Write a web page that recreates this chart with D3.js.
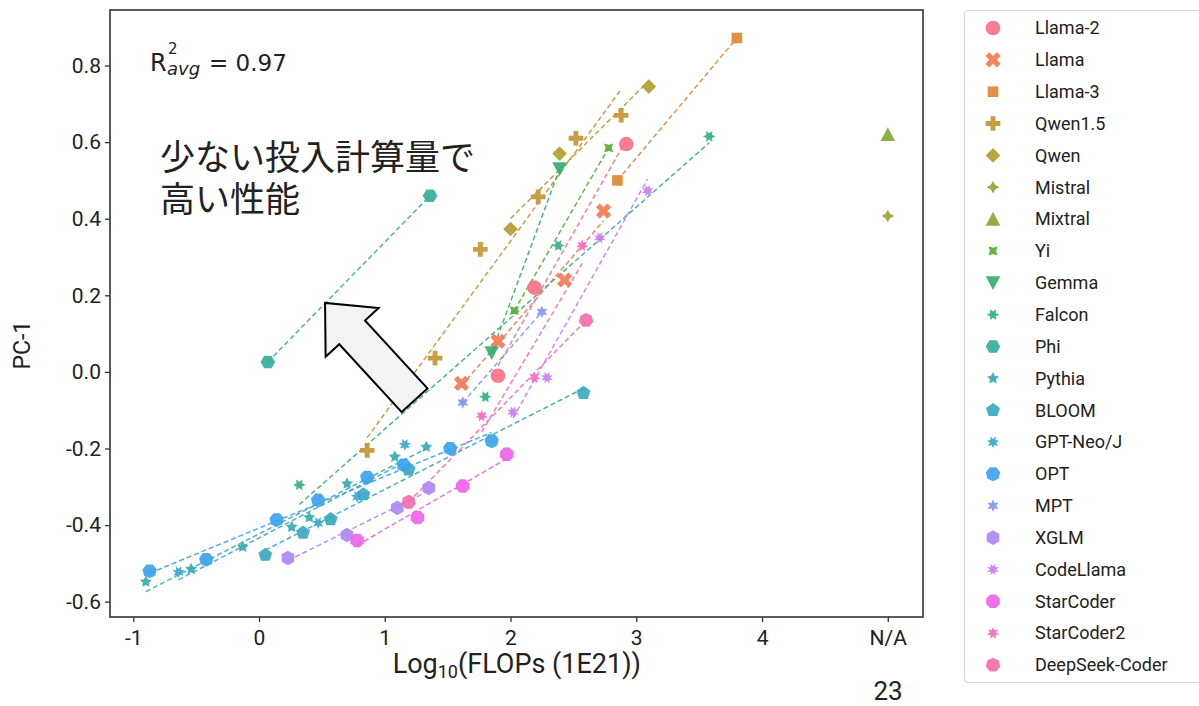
<!DOCTYPE html>
<html>
<head>
<meta charset="utf-8">
<script src="https://cdn.jsdelivr.net/npm/d3@7"></script>
<style>
  body { margin: 0; background: #fff; }
  text { font-family: Roboto, "Noto Sans", sans-serif; fill: #222; }
</style>
</head>
<body>
<div class="chart"></div>
<script>
// model families (legend order)
var families = ["Llama-2", "Llama", "Llama-3", "Qwen1.5", "Qwen", "Mistral", "Mixtral", "Yi", "Gemma",
  "Falcon", "Phi", "Pythia", "BLOOM", "GPT-Neo/J", "OPT", "MPT", "XGLM", "CodeLlama", "StarCoder",
  "StarCoder2", "DeepSeek-Coder"];

// [log10 FLOPs (1E21), PC-1]  -- x = 5 means N/A
var llama2 = [[1.90, -0.01], [2.19, 0.22], [2.92, 0.595]];
var llama = [[1.61, -0.03], [1.90, 0.08], [2.43, 0.24], [2.74, 0.42]];
var llama3 = [[2.85, 0.50], [3.80, 0.872]];
var qwen15 = [[0.86, -0.205], [1.40, 0.036], [1.76, 0.32], [2.22, 0.457], [2.52, 0.61], [2.88, 0.67]];
var qwen = [[2.00, 0.373], [2.39, 0.57], [3.10, 0.745]];
var mistral = [[5, 0.407]];
var mixtral = [[5, 0.62]];
var yi = [[2.03, 0.16], [2.78, 0.585]];
var gemma = [[1.85, 0.05], [2.39, 0.53]];
var falcon = [[0.32, -0.295], [1.80, -0.065], [2.38, 0.33], [3.58, 0.615]];
var phi = [[0.07, 0.026], [1.36, 0.46]];
var pythia = [[-0.90, -0.548], [-0.54, -0.515], [-0.13, -0.457], [0.26, -0.405], [0.40, -0.38], [0.70, -0.292], [1.08, -0.222], [1.33, -0.196]];
var bloom = [[0.05, -0.478], [0.35, -0.42], [0.57, -0.385], [0.83, -0.32], [1.19, -0.255], [2.58, -0.055]];
var gptneo = [[-0.64, -0.522], [0.47, -0.394], [0.78, -0.326], [1.16, -0.19]];
var opt = [[-0.87, -0.52], [-0.42, -0.49], [0.14, -0.386], [0.47, -0.335], [0.86, -0.275], [1.15, -0.243], [1.52, -0.20], [1.85, -0.18]];
var mpt = [[1.62, -0.08], [2.25, 0.157]];
var xglm = [[0.23, -0.486], [0.70, -0.426], [1.10, -0.355], [1.35, -0.303]];
var codellama = [[2.02, -0.105], [2.29, -0.015], [2.71, 0.35], [3.09, 0.473]];
var starcoder = [[0.78, -0.44], [1.26, -0.38], [1.62, -0.298], [1.97, -0.215]];
var starcoder2 = [[1.77, -0.115], [2.19, -0.015], [2.57, 0.33]];
var deepseek = [[1.19, -0.34], [2.60, 0.135]];

var series = [llama2, llama, llama3, qwen15, qwen, mistral, mixtral, yi, gemma, falcon, phi, pythia,
  bloom, gptneo, opt, mpt, xglm, codellama, starcoder, starcoder2, deepseek];

var xTicks = [-1, 0, 1, 2, 3, 4, 5];
var xTickLabels = ["-1", "0", "1", "2", "3", "4", "N/A"];
var yTicks = [-0.6, -0.4, -0.2, 0, 0.2, 0.4, 0.6, 0.8];

// husl-like palette, one colour per family
var palette = ["#f77189", "#f47952", "#e08832", "#c69532", "#b19d31", "#9ba331", "#82a931", "#58ad32",
  "#33b06c", "#34af88", "#35ae9b", "#37abb0", "#38a9bf", "#39a7ce", "#3ba3ec", "#8297f4", "#ad88f4",
  "#cb7cf4", "#ef63e8", "#f569c6", "#f66ea8"];

// seaborn's marker sequence
var markers = [
  {t: "circle"}, {t: "x"}, {t: "poly", n: 4, rot: 45}, {t: "plus"}, {t: "poly", n: 4, rot: 0},
  {t: "star", n: 4, rot: 0}, {t: "tri"}, {t: "star", n: 4, rot: 45}, {t: "tridown"},
  {t: "star", n: 6, rot: 30}, {t: "poly", n: 6, rot: 30}, {t: "star", n: 5, rot: 0}, {t: "poly", n: 5, rot: 0},
  {t: "star", n: 7, rot: 25.7}, {t: "poly", n: 7, rot: 25.7}, {t: "star", n: 6, rot: 0}, {t: "poly", n: 6, rot: 0},
  {t: "star", n: 8, rot: 22.5}, {t: "poly", n: 8, rot: 22.5}, {t: "star", n: 7, rot: 0}, {t: "poly", n: 7, rot: 0}
];

var width = 1199, height = 706;
var margin = {top: 10, right: 276, bottom: 89, left: 110};
var plotW = width - margin.left - margin.right,
    plotH = height - margin.top - margin.bottom;

var svg = d3.select(".chart")
  .append("svg")
    .attr("width", width)
    .attr("height", height);

var g = svg.append("g")
    .attr("transform", "translate(" + margin.left + "," + margin.top + ")");

var x = d3.scaleLinear().domain([-1.185, 5.28]).range([0, plotW]);
var y = d3.scaleLinear().domain([-0.64, 0.945]).range([plotH, 0]);

// marker path builder (centred at 0,0)
function markerPath(m, r) {
  var pts = [], i, a;
  function ring(n, rot, inner) {
    var k = inner ? 2 * n : n;
    for (i = 0; i < k; i++) {
      a = Math.PI / 2 + (2 * Math.PI * i) / k + rot * Math.PI / 180;
      var rr = inner && i % 2 ? r * 0.5 : r;
      pts.push([rr * Math.cos(a), -rr * Math.sin(a)]);
    }
  }
  function cross(rot, ext) {
    var w = ext / 3, base = [[w, ext], [w, w], [ext, w], [ext, -w], [w, -w], [w, -ext],
      [-w, -ext], [-w, -w], [-ext, -w], [-ext, w], [-w, w], [-w, ext]];
    var c = Math.cos(rot), s = Math.sin(rot);
    base.forEach(function(p) { pts.push([p[0] * c - p[1] * s, p[0] * s + p[1] * c]); });
  }
  if (m.t === "circle") {
    return d3.symbol().type(d3.symbolCircle).size(Math.PI * r * r)();
  } else if (m.t === "poly") ring(m.n, m.rot, false);
  else if (m.t === "star") ring(m.n, m.rot, true);
  else if (m.t === "tri") pts = [[0, -r], [-r, r * 0.9], [r, r * 0.9]];
  else if (m.t === "tridown") pts = [[0, r], [-r, -r * 0.9], [r, -r * 0.9]];
  else if (m.t === "plus") cross(0, r);
  else if (m.t === "x") cross(Math.PI / 4, r * 1.1);
  return "M" + pts.map(function(p) { return p[0].toFixed(2) + "," + p[1].toFixed(2); }).join("L") + "Z";
}
function markerSize(m) {
  if (m.t === "star") return 6.3;
  if (m.t === "poly" && m.n === 4 && m.rot === 45) return 7.5;
  return 7.3;
}

// least squares fit over the family's x range
function fitLine(pts) {
  var mx = d3.mean(pts, function(d) { return d[0]; }),
      my = d3.mean(pts, function(d) { return d[1]; });
  var sxy = d3.sum(pts, function(d) { return (d[0] - mx) * (d[1] - my); }),
      sxx = d3.sum(pts, function(d) { return (d[0] - mx) * (d[0] - mx); });
  var b = sxy / sxx, a = my - b * mx;
  var ext = d3.extent(pts, function(d) { return d[0]; });
  return ext.map(function(v) { return [v, a + b * v]; });
}

svg.append("defs").append("clipPath").attr("id", "clip")
  .append("rect").attr("width", plotW).attr("height", plotH);

var plot = g.append("g").attr("clip-path", "url(#clip)");
var line = d3.line().x(function(d) { return x(d[0]); }).y(function(d) { return y(d[1]); });

series.forEach(function(pts, i) {
  if (pts.length > 1) {
    plot.append("path")
      .attr("d", line(fitLine(pts)))
      .attr("fill", "none")
      .attr("stroke", palette[i])
      .attr("stroke-width", 1.5)
      .attr("stroke-dasharray", "5,3")
      .attr("opacity", 0.9);
  }
});
series.forEach(function(pts, i) {
  plot.selectAll(null)
    .data(pts)
    .enter()
    .append("path")
      .attr("d", markerPath(markers[i], markerSize(markers[i])))
      .attr("transform", function(d) { return "translate(" + x(d[0]) + "," + y(d[1]) + ")"; })
      .attr("fill", palette[i])
      .attr("opacity", 0.92);
});

// axes
var xAxis = g.append("g")
    .attr("transform", "translate(0," + plotH + ")")
    .call(d3.axisBottom(x).tickValues(xTicks).tickSize(5)
      .tickFormat(function(d, i) { return xTickLabels[i]; }));
var yAxis = g.append("g")
    .call(d3.axisLeft(y).tickValues(yTicks).tickSize(5)
      .tickFormat(function(d) { return d.toFixed(1); }));
[xAxis, yAxis].forEach(function(ax) {
  ax.select(".domain").remove();
  ax.selectAll("line").attr("stroke", "#333").attr("stroke-width", 1.3);
  ax.selectAll("text").style("font-size", "21px").attr("fill", "#222");
});
xAxis.selectAll("text").attr("dy", "0.95em");
yAxis.selectAll("text").attr("dx", "-0.05em");

g.append("rect")
  .attr("width", plotW).attr("height", plotH)
  .attr("fill", "none").attr("stroke", "#333").attr("stroke-width", 1.6);

// axis titles
var xl = svg.append("text")
  .attr("x", margin.left + x(2.05)).attr("y", 673)
  .attr("text-anchor", "middle").style("font-size", "27px");
xl.append("tspan").text("Log");
xl.append("tspan").text("10").attr("dy", 5).style("font-size", "18px");
xl.append("tspan").text("(FLOPs (1E21))").attr("dy", -5);

svg.append("text")
  .attr("transform", "translate(30," + (margin.top + y(0.07)) + ") rotate(-90)")
  .attr("text-anchor", "middle").style("font-size", "23px")
  .text("PC-1");

// R^2 annotation
var r2 = svg.append("g").style("font-family", "'DejaVu Sans', sans-serif");
r2.append("text").attr("x", 150).attr("y", 71).style("font-size", "24px").style("font-family", "inherit").attr("fill", "#333").text("R");
r2.append("text").attr("x", 168).attr("y", 54).style("font-size", "15px").style("font-family", "inherit").attr("fill", "#333").text("2");
r2.append("text").attr("x", 167).attr("y", 75).style("font-size", "18px").style("font-family", "inherit").style("font-style", "italic").attr("fill", "#333").text("avg");
r2.append("text").attr("x", 209).attr("y", 71).style("font-size", "23px").style("font-family", "inherit").attr("fill", "#333").text("= 0.97");

// Japanese call-out
var jp = svg.append("text").style("font-family", "'Noto Sans CJK JP', sans-serif").style("font-size", "35px").attr("fill", "#111");
jp.append("tspan").attr("x", 160).attr("y", 170).text("少ない投入計算量で");
jp.append("tspan").attr("x", 160).attr("y", 212).text("高い性能");

// block arrow, tail -> tip in data space
var tail = [1.237, -0.074], tip = [0.525, 0.18];
(function() {
  var x0 = margin.left + x(tail[0]), y0 = margin.top + y(tail[1]);
  var x1 = margin.left + x(tip[0]), y1 = margin.top + y(tip[1]);
  var len = Math.hypot(x1 - x0, y1 - y0), ux = (x1 - x0) / len, uy = (y1 - y0) / len;
  var nx = -uy, ny = ux, sw = 17.5, hw = 36, hl = 40;
  var bx = x1 - ux * hl, by = y1 - uy * hl;
  var p = [[x0 + nx * sw, y0 + ny * sw], [bx + nx * sw, by + ny * sw], [bx + nx * hw, by + ny * hw], [x1, y1],
    [bx - nx * hw, by - ny * hw], [bx - nx * sw, by - ny * sw], [x0 - nx * sw, y0 - ny * sw]];
  svg.append("path")
    .attr("d", "M" + p.map(function(q) { return q.join(","); }).join("L") + "Z")
    .attr("fill", "#f3f3f3").attr("stroke", "#000").attr("stroke-width", 2)
    .attr("stroke-linejoin", "miter");
})();

// legend
var legend = svg.append("g");
legend.append("rect")
  .attr("x", 964.5).attr("y", 10.5).attr("width", 250).attr("height", 672).attr("rx", 4)
  .attr("fill", "#fff").attr("stroke", "#d8d8d8").attr("stroke-width", 1.2);
var item = legend.selectAll("g.item")
  .data(families)
  .enter()
  .append("g")
    .attr("class", "item")
    .attr("transform", function(d, i) { return "translate(993," + (28 + i * 31.85) + ")"; });
item.append("path")
  .attr("d", function(d, i) { return markerPath(markers[i], markerSize(markers[i])); })
  .attr("fill", function(d, i) { return palette[i]; })
  .attr("opacity", 0.92);
item.append("text")
  .attr("x", 42).attr("dy", "0.35em")
  .style("font-size", "18px")
  .text(function(d) { return d; });

// slide page number
svg.append("text").attr("x", 888).attr("y", 700).attr("text-anchor", "middle")
  .style("font-size", "26px").attr("fill", "#111").text("23");
</script>
</body>
</html>
